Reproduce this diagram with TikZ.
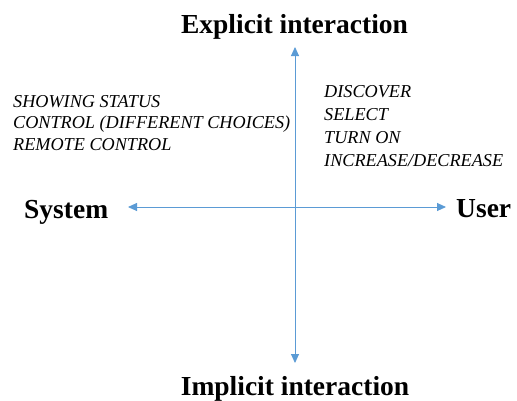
\documentclass[tikz,border=0pt]{standalone}
\usepackage{fontspec}
\setmainfont{Liberation Serif}
\usetikzlibrary{arrows.meta}
\definecolor{axisblue}{HTML}{5B9BD5}
\tikzset{
  axis/.style={draw=axisblue, line width=0.9pt, {Triangle[length=9pt,width=8pt]}-{Triangle[length=9pt,width=8pt]}},
  title/.style={font=\fontsize{27.5}{32}\selectfont\bfseries, inner sep=0pt},
  items/.style={font=\fontsize{18.2}{21.5}\selectfont\itshape, align=left, anchor=base west, inner sep=0pt}
}
\begin{document}
\begin{tikzpicture}[x=1pt,y=-1pt]
\useasboundingbox (0,0) rectangle (517,400);
\coordinate (top) at (295,47);
\coordinate (bottom) at (295,363);
\coordinate (left) at (128,207);
\coordinate (right) at (446,207);
\draw[axis] (top) -- (bottom);
\draw[axis] (left) -- (right);
\node[title, anchor=base] (explicit) at (294.5,33) {Explicit interaction};
\node[title, anchor=base] (implicit) at (295,395) {Implicit interaction};
\node[title, anchor=base west] (system) at (24,218) {System};
\node[title, anchor=base west] (user) at (456,217) {User};
\node[items] (sysitems) at (13,150) {SHOWING STATUS\\CONTROL (DIFFERENT CHOICES)\\REMOTE CONTROL};
\node[items, font=\fontsize{18.2}{22.7}\selectfont\itshape] (useritems) at (324,166) {DISCOVER\\SELECT\\TURN ON\\INCREASE/DECREASE};
\end{tikzpicture}
\end{document}
